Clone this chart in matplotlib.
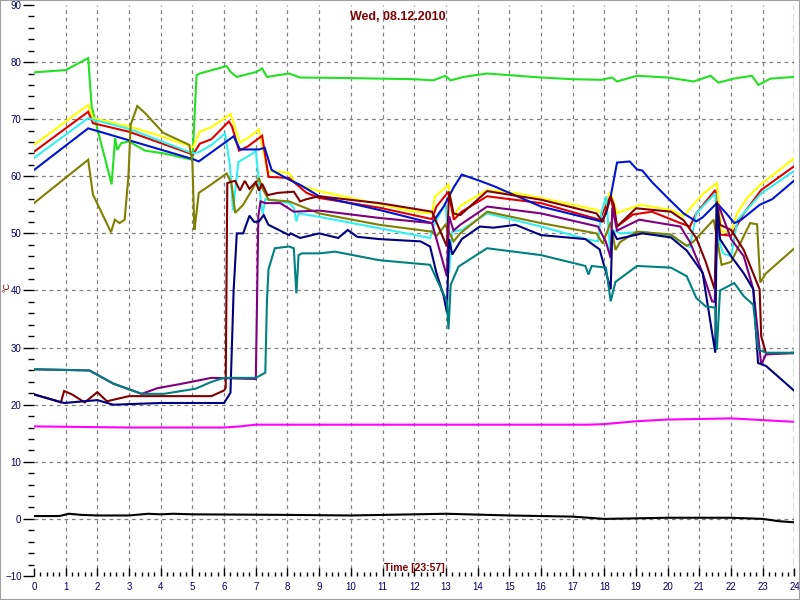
import matplotlib
matplotlib.use("Agg")
import matplotlib.pyplot as plt
from matplotlib.patches import Rectangle
from matplotlib.ticker import MultipleLocator

# hours / deg C
green_h = [0, 1.0, 1.71, 1.82, 2.45, 2.56, 2.63, 2.75, 3.0, 3.5, 4.1, 5.0, 5.13, 5.23, 6.08, 6.2, 6.4,
           7.03, 7.2, 7.35, 8.05, 8.4, 9.9, 12.0, 12.6, 12.98, 13.14, 13.56, 14.3, 16.0, 17.0, 17.9,
           18.24, 18.4, 19.03, 20.0, 20.82, 21.35, 21.6, 22.08, 22.66, 22.86, 23.24, 24.0]
green_v = [78.2, 78.6, 80.7, 72.2, 58.6, 66.7, 64.6, 65.8, 66.1, 64.5, 64.0, 62.9, 77.7, 78.0, 79.3, 78.3, 77.4,
           78.3, 78.9, 77.4, 78.0, 77.3, 77.2, 77.0, 76.8, 77.6, 76.8, 77.4, 78.0, 77.3, 77.0, 76.9,
           77.3, 76.6, 77.6, 77.3, 76.6, 77.6, 76.4, 77.1, 77.6, 76.0, 77.1, 77.4]

yellow_h = [0, 1.71, 1.86, 3.0, 3.86, 5.02, 5.23, 5.6, 6.2, 6.5, 6.75, 7.1, 7.37, 7.77, 8.05, 8.3, 9.0,
            12.0, 12.56, 12.66, 13.08, 13.24, 13.45, 14.3, 15.14, 16.0, 17.77, 17.9, 18.19, 18.4, 19.13,
            20.1, 20.5, 20.8, 21.13, 21.55, 21.7, 22.0, 22.19, 22.5, 22.92, 23.2, 24.0]
yellow_v = [65.5, 72.5, 70.2, 68.7, 67.3, 65.1, 67.8, 68.6, 70.9, 65.9, 66.7, 68.2, 60.8, 60.8, 60.5, 58.5, 57.4,
            53.8, 53.5, 56.5, 58.5, 53.0, 54.8, 57.6, 57.1, 56.2, 54.1, 53.5, 57.3, 53.6, 55.0,
            54.1, 53.0, 55.0, 57.0, 58.8, 50.3, 50.3, 53.5, 56.2, 58.5, 59.7, 63.2]

red_h = [0, 1.71, 1.86, 3.0, 5.02, 5.23, 5.6, 6.15, 6.25, 6.47, 6.74, 7.2, 7.4, 8.05, 8.6, 9.0, 10.9,
         12.56, 12.7, 13.08, 13.25, 13.5, 14.3, 16.0, 17.85, 18.19, 18.4, 18.9, 19.5, 20.4, 20.7, 20.9,
         21.5, 21.65, 22.0, 22.4, 22.95, 24.0]
red_v = [64.3, 71.3, 69.3, 67.8, 63.8, 65.7, 66.5, 69.6, 68.7, 64.5, 65.2, 67.1, 59.9, 59.7, 57.1, 56.2, 54.5,
         52.5, 54.7, 57.3, 52.4, 53.8, 56.5, 55.3, 52.4, 56.5, 51.2, 53.3, 53.8, 51.8, 51.2, 53.5,
         57.6, 49.8, 49.6, 53.5, 57.6, 61.8]

cyan_h = [0, 1.71, 1.86, 3.0, 5.02, 5.23, 5.6, 6.03, 6.18, 6.28, 6.45, 6.6, 6.9, 7.0, 7.17, 7.22, 7.3,
          8.05, 8.2, 8.28, 8.35, 9.0, 10.9, 12.5, 12.6, 12.98, 13.05, 13.1, 13.2, 13.5, 14.3, 16.0,
          17.5, 17.8, 17.9, 18.06, 18.19, 18.3, 18.5, 19.2, 20.1, 20.7, 20.9, 21.5, 21.6, 21.75, 22.0,
          22.2, 22.95, 24.0]
cyan_v = [63.2, 70.2, 69.9, 68.3, 64.0, 64.3, 65.5, 67.5, 62.0, 54.0, 62.5, 63.0, 64.0, 64.5, 55.0, 53.5, 56.0,
          55.3, 54.5, 52.1, 53.5, 52.9, 50.9, 49.2, 51.2, 55.3, 51.2, 43.1, 50.3, 50.6, 53.5, 51.2,
          48.9, 48.6, 53.5, 56.5, 46.0, 50.5, 50.0, 50.3, 49.5, 47.6, 53.5, 57.0, 49.0, 46.5, 46.0,
          52.3, 57.0, 61.0]

blue_h = [0, 1.71, 3.0, 5.02, 5.2, 5.55, 6.3, 6.5, 7.1, 7.28, 7.5, 8.05, 8.4, 9.0, 10.9, 12.56, 12.93,
          13.1, 13.24, 13.5, 14.07, 14.5, 16.0, 17.9, 18.05, 18.2, 18.4, 18.8, 19.03, 19.2, 19.5, 20.0,
          20.5, 20.9, 21.1, 21.55, 21.85, 22.1, 22.3, 22.9, 23.3, 24.0]
blue_v = [61.1, 68.4, 66.3, 63.0, 62.6, 64.0, 67.0, 64.7, 64.7, 65.0, 61.1, 59.4, 58.5, 56.5, 54.1, 51.8, 54.7,
          56.5, 58.0, 60.3, 59.2, 58.3, 54.7, 52.1, 53.5, 56.5, 62.4, 62.6, 61.2, 61.0, 59.0, 56.2,
          53.5, 52.1, 52.8, 55.3, 53.5, 51.8, 52.3, 55.0, 56.0, 59.3]

olive_h = [0, 1.71, 1.86, 2.43, 2.55, 2.7, 2.86, 2.98, 3.05, 3.26, 3.5, 4.08, 4.9, 5.0, 5.06, 5.1, 5.2,
           5.6, 6.08, 6.23, 6.35, 6.6, 7.1, 7.2, 7.4, 8.05, 9.0, 10.9, 12.56, 12.7, 12.98, 13.24, 13.45,
           14.3, 16.0, 17.75, 17.95, 18.2, 18.35, 18.5, 19.03, 20.1, 20.6, 20.8, 21.45, 21.7, 22.0,
           22.6, 22.82, 22.92, 23.1, 24.0]
olive_v = [55.3, 62.9, 56.8, 50.2, 52.4, 51.8, 52.4, 60.0, 69.0, 72.3, 71.1, 67.6, 65.5, 62.4, 50.6, 52.2, 57.1,
           58.6, 60.5, 58.8, 53.6, 55.0, 59.7, 58.0, 55.9, 55.6, 53.5, 51.5, 50.3, 49.5, 51.5, 48.6, 50.0,
           53.8, 51.8, 50.0, 48.2, 52.0, 47.1, 48.5, 50.3, 49.8, 47.8, 48.5, 52.4, 44.5, 45.0,
           51.8, 51.6, 41.4, 43.0, 47.4]

maroon_h = [0, 0.5, 0.85, 0.95, 1.2, 1.6, 2.0, 2.3, 3.0, 5.6, 6.0, 6.05, 6.1, 6.2, 6.35, 6.5, 6.65, 6.8,
            7.0, 7.1, 7.2, 7.37, 7.7, 8.2, 8.4, 8.6, 9.0, 10.9, 12.56, 13.03, 13.1, 13.24, 13.45, 14.3,
            16.0, 17.75, 17.95, 18.2, 18.3, 18.4, 19.0, 20.1, 20.5, 20.9, 21.2, 21.48, 21.55, 21.65,
            22.0, 22.4, 22.9, 22.95, 23.1, 24.0]
maroon_v = [21.8, 21.0, 20.4, 22.4, 21.8, 20.4, 22.2, 20.6, 21.5, 21.5, 22.5, 23.0, 58.8, 59.0, 59.2, 57.5, 59.2, 57.8,
            59.0, 57.5, 58.7, 56.7, 57.1, 57.3, 55.6, 56.0, 56.5, 55.3, 53.8, 47.7, 57.3, 53.5, 53.2, 57.4,
            55.9, 53.5, 52.0, 56.5, 55.0, 51.2, 54.4, 53.8, 52.3, 49.2, 45.0, 40.2, 55.6, 51.5,
            50.6, 47.1, 40.2, 32.0, 29.0, 29.0]

purple_h = [0, 1.75, 2.5, 3.4, 3.9, 4.6, 5.6, 7.0, 7.08, 7.15, 7.3, 7.77, 8.2, 9.0, 10.9, 12.56, 13.03,
            13.1, 13.24, 13.45, 14.3, 16.0, 17.8, 18.05, 18.2, 18.25, 18.4, 19.1, 20.4, 20.7, 21.1, 21.4,
            21.48, 21.6, 22.0, 22.4, 22.7, 22.95, 23.1, 24.0]
purple_v = [26.2, 26.0, 23.7, 21.9, 22.9, 23.6, 24.7, 24.5, 53.0, 55.6, 55.3, 55.3, 53.8, 54.0, 52.7, 51.8, 42.5,
            53.0, 50.5, 51.5, 54.7, 53.5, 51.2, 48.5, 45.7, 54.5, 50.5, 52.4, 51.2, 48.5, 43.1, 38.1,
            38.0, 55.0, 49.0, 46.0, 40.2, 27.0, 28.8, 29.1]

navy_h = [0, 0.95, 2.0, 2.5, 4.0, 6.0, 6.2, 6.3, 6.4, 6.6, 6.8, 6.95, 7.1, 7.25, 7.4, 8.05, 8.1, 8.4,
          9.0, 9.6, 9.9, 10.2, 10.9, 12.2, 12.5, 12.7, 12.93, 13.03, 13.1, 13.2, 13.5, 14.07, 14.5,
          15.2, 16.0, 17.4, 17.85, 18.2, 18.25, 18.4, 19.2, 20.1, 20.6, 21.1, 21.5, 21.55, 21.65,
          22.0, 22.4, 22.7, 22.85, 23.1, 24.0]
navy_v = [21.8, 20.3, 20.8, 20.0, 20.3, 20.3, 22.1, 40.0, 50.0, 50.0, 53.1, 52.0, 52.1, 53.2, 51.5, 49.7, 50.0, 49.2,
          50.0, 49.2, 50.6, 49.4, 49.0, 48.6, 47.7, 43.1, 39.0, 36.2, 49.0, 46.3, 49.0, 51.2, 51.0,
          51.5, 49.7, 49.0, 47.2, 40.2, 50.5, 49.0, 50.0, 49.3, 47.0, 43.1, 29.1, 55.3, 49.0,
          46.0, 43.0, 40.2, 27.3, 26.8, 22.4]

teal_h = [0, 1.75, 2.5, 3.4, 4.1, 5.1, 5.6, 6.0, 7.0, 7.3, 7.35, 7.4, 7.6, 8.05, 8.2, 8.28, 8.35, 8.45,
          9.0, 9.5, 10.9, 12.5, 12.75, 13.03, 13.08, 13.15, 13.4, 14.3, 16.0, 17.4, 17.5, 17.6, 18.05,
          18.2, 18.35, 19.03, 20.1, 20.6, 20.9, 21.2, 21.5, 21.55, 21.65, 22.1, 22.4, 22.7, 22.85,
          23.1, 24.0]
teal_v = [26.2, 26.0, 23.7, 21.9, 21.9, 22.8, 24.0, 24.7, 24.7, 25.6, 37.9, 43.7, 47.4, 47.7, 47.4, 39.5, 46.2, 46.5,
          46.5, 46.8, 45.3, 44.5, 41.5, 38.1, 33.2, 41.0, 44.2, 47.4, 46.2, 44.3, 42.8, 44.3, 44.0,
          38.1, 41.5, 44.3, 44.0, 42.5, 38.7, 37.2, 37.0, 29.6, 40.0, 41.3, 39.0, 37.5, 29.7,
          29.1, 29.1]

magenta_h = [0, 3.0, 6.0, 6.5, 7.0, 12.0, 17.5, 18.0, 19.0, 20.0, 21.0, 22.0, 23.0, 24.0]
magenta_v = [16.2, 16.0, 16.0, 16.2, 16.5, 16.5, 16.5, 16.6, 17.1, 17.4, 17.5, 17.6, 17.3, 17.0]

black_h = [0, 0.8, 1.1, 1.5, 2.0, 3.0, 3.6, 4.0, 4.4, 5.0, 8.0, 10.0, 13.0, 15.0, 17.0, 18.0, 20.0,
           22.0, 23.0, 23.5, 24.0]
black_v = [0.5, 0.5, 0.9, 0.7, 0.6, 0.6, 0.9, 0.8, 0.9, 0.8, 0.7, 0.6, 0.9, 0.6, 0.4, 0.0, 0.2,
           0.2, 0.0, -0.4, -0.6]

series = [
    (green_h, green_v, '#22e022'),
    (yellow_h, yellow_v, '#ffff00'),
    (red_h, red_v, '#e00000'),
    (cyan_h, cyan_v, '#33f0f0'),
    (blue_h, blue_v, '#0014d0'),
    (olive_h, olive_v, '#808000'),
    (maroon_h, maroon_v, '#800000'),
    (purple_h, purple_v, '#800080'),
    (navy_h, navy_v, '#000080'),
    (teal_h, teal_v, '#008080'),
    (magenta_h, magenta_v, '#ff00ff'),
    (black_h, black_v, '#000000'),
]

fig = plt.figure(figsize=(8, 6), dpi=100)
ax = fig.add_axes([0.0425, 0.04, 0.9506, 0.9517])

# dashed grid, skipping the frame edges
for h in range(1, 24):
    ax.axvline(h, color='#808080', lw=0.9, ls=(0, (3, 3)), zorder=0)
for t in range(0, 90, 10):
    ax.axhline(t, color='#808080', lw=0.9, ls=(0, (3, 3)), zorder=0)
ax.axvline(24, color='#008000', lw=1.0, ls=(0, (5, 3)), zorder=0)

for h, v, c in series:
    ax.plot(h, v, color=c, lw=1.5, solid_joinstyle='miter')

ax.set_xlim(0, 24)
ax.set_ylim(-10, 90)
for s in ax.spines.values():
    s.set_visible(False)

ax.xaxis.set_major_locator(MultipleLocator(1))
ax.xaxis.set_minor_locator(MultipleLocator(0.2))
ax.yaxis.set_major_locator(MultipleLocator(10))
ax.yaxis.set_minor_locator(MultipleLocator(2))
ax.tick_params(axis='x', which='major', direction='in', length=6, width=1, pad=4,
               labelsize=7, labelcolor='#000066')
ax.tick_params(axis='x', which='minor', direction='in', length=3, width=1)
ax.tick_params(axis='y', which='major', direction='out', length=8, width=1, pad=1,
               labelsize=7, labelcolor='#000066')
ax.tick_params(axis='y', which='minor', direction='out', length=4, width=1)
for lab in ax.get_xticklabels() + ax.get_yticklabels():
    lab.set_family('Liberation Sans')

fig.text(0.4975, 0.982, 'Wed, 08.12.2010', ha='center', va='top',
         fontsize=9, fontweight='bold', color='#800000', family='Liberation Sans')
ax.text(0.5, 0.005, 'Time [23:57]', transform=ax.transAxes, ha='center', va='bottom',
        fontsize=7.5, fontweight='bold', color='#800000', family='Liberation Sans')
fig.text(0.009, 0.522, '°C', rotation=90, ha='center', va='center',
         fontsize=6.5, color='#800000', family='Liberation Sans')

fig.patches.append(Rectangle((0, 0), 1, 1, transform=fig.transFigure, fill=False,
                             edgecolor='#a0a0a0', lw=1.5))

fig.savefig('out.png', dpi=100, facecolor='white')
